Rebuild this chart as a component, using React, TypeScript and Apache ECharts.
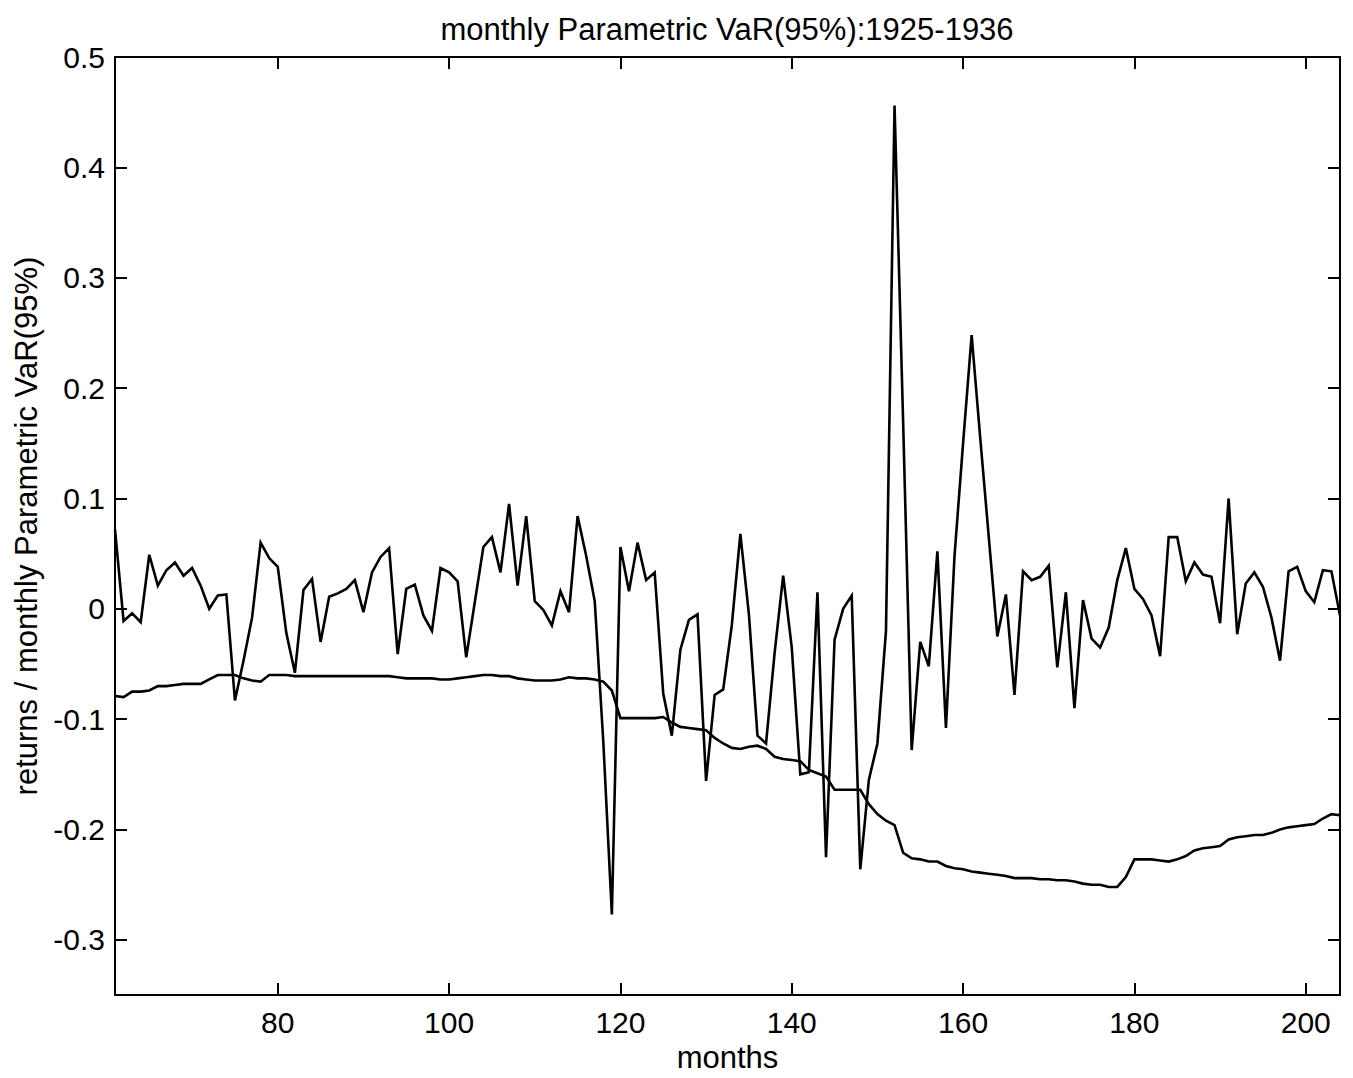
import React, { useEffect, useRef } from "react";
import * as echarts from "echarts";

const START_MONTH = 61;
const END_MONTH = 204;

// monthly returns, months 61..204
const RETURNS = [
  0.072, -0.011, -0.004, -0.012, 0.049, 0.021, 0.035, 0.042, 0.030, 0.037,
  0.021, 0.0, 0.012, 0.013, -0.083, -0.047, -0.008, 0.060, 0.046, 0.038,
  -0.022, -0.058, 0.017, 0.027, -0.030, 0.011, 0.014, 0.018, 0.026, -0.003,
  0.033, 0.047, 0.055, -0.041, 0.018, 0.022, -0.006, -0.020, 0.037, 0.033,
  0.025, -0.044, 0.006, 0.056, 0.065, 0.033, 0.095, 0.021, 0.084, 0.007,
  -0.001, -0.015, 0.016, -0.003, 0.084, 0.048, 0.007, -0.12, -0.277, 0.056,
  0.016, 0.060, 0.026, 0.033, -0.077, -0.115, -0.037, -0.010, -0.005, -0.156,
  -0.078, -0.073, -0.015, 0.068, -0.005, -0.115, -0.122, -0.04, 0.03, -0.035,
  -0.15, -0.148, 0.015, -0.225, -0.028, 0.0, 0.012, -0.236, -0.155, -0.122,
  -0.02, 0.456, 0.17, -0.128, -0.03, -0.052, 0.052, -0.108, 0.048, 0.15,
  0.248, 0.155, 0.065, -0.025, 0.013, -0.078, 0.034, 0.026, 0.029, 0.039,
  -0.053, 0.015, -0.090, 0.008, -0.027, -0.035, -0.017, 0.026, 0.055, 0.018,
  0.009, -0.006, -0.043, 0.065, 0.065, 0.025, 0.042, 0.031, 0.029, -0.013,
  0.100, -0.023, 0.023, 0.033, 0.020, -0.008, -0.047, 0.034, 0.038, 0.016,
  0.006, 0.035, 0.034, -0.006,
];

// monthly parametric VaR(95%), months 61..204
const VAR95 = [
  -0.079, -0.080, -0.075, -0.075, -0.074, -0.070, -0.070, -0.069, -0.068, -0.068,
  -0.068, -0.064, -0.060, -0.060, -0.060, -0.063, -0.065, -0.066, -0.060, -0.060,
  -0.060, -0.061, -0.061, -0.061, -0.061, -0.061, -0.061, -0.061, -0.061, -0.061,
  -0.061, -0.061, -0.061, -0.062, -0.063, -0.063, -0.063, -0.063, -0.064, -0.064,
  -0.063, -0.062, -0.061, -0.060, -0.060, -0.061, -0.061, -0.063, -0.064, -0.065,
  -0.065, -0.065, -0.064, -0.062, -0.063, -0.063, -0.064, -0.066, -0.074, -0.099,
  -0.099, -0.099, -0.099, -0.099, -0.098, -0.103, -0.107, -0.108, -0.109, -0.110,
  -0.117, -0.122, -0.126, -0.127, -0.125, -0.124, -0.127, -0.134, -0.136, -0.137,
  -0.138, -0.146, -0.149, -0.152, -0.164, -0.164, -0.164, -0.164, -0.177, -0.186,
  -0.192, -0.196, -0.221, -0.226, -0.227, -0.229, -0.229, -0.233, -0.235, -0.236,
  -0.238, -0.239, -0.240, -0.241, -0.242, -0.244, -0.244, -0.244, -0.245, -0.245,
  -0.246, -0.246, -0.247, -0.249, -0.250, -0.250, -0.252, -0.252, -0.243, -0.227,
  -0.227, -0.227, -0.228, -0.229, -0.227, -0.224, -0.219, -0.217, -0.216, -0.215,
  -0.209, -0.207, -0.206, -0.205, -0.205, -0.203, -0.200, -0.198, -0.197, -0.196,
  -0.195, -0.190, -0.186, -0.187,
];

const X_TICKS = [80, 100, 120, 140, 160, 180, 200];
const Y_TICKS = [-0.3, -0.2, -0.1, 0, 0.1, 0.2, 0.3, 0.4, 0.5];
const Y_MIN = -0.35;
const Y_MAX = 0.5;

const TITLE = "monthly Parametric VaR(95%):1925-1936";
const X_NAME = "months";
const Y_NAME = "returns / monthly Parametric VaR(95%)";

const FONT = "'Liberation Sans', Arial, Helvetica, sans-serif";

export default function App() {
  const ref = useRef<HTMLDivElement>(null);

  useEffect(() => {
    document.body.style.margin = "0";
    const chart = echarts.init(ref.current as HTMLDivElement, null, { renderer: "svg" });

    const toPairs = (arr: number[]) => arr.map((v, i) => [START_MONTH + i, v]);
    const fmtY = (v: number) => {
      const s = (Math.round(v * 10) / 10).toFixed(1);
      return s === "0.0" || s === "-0.0" ? "0" : s;
    };
    const axisLine = { show: true, onZero: false, lineStyle: { color: "#000", width: 2 } };
    const tick = (vals: number[]) => ({
      show: true,
      inside: true,
      length: 12,
      customValues: vals,
      lineStyle: { color: "#000", width: 2 },
    });
    const lineStyle = { color: "#000", width: 2.6, join: "miter", miterLimit: 4 };

    chart.setOption({
      animation: false,
      backgroundColor: "#ffffff",
      grid: { left: 115, top: 57, width: 1225, height: 943, containLabel: false },
      graphic: [
        {
          type: "text",
          x: 727,
          y: 29,
          style: {
            text: TITLE,
            fontSize: 31,
            fontFamily: FONT,
            fill: "#000",
            align: "center",
            verticalAlign: "middle",
          },
        },
      ],
      xAxis: [
        {
          type: "value",
          position: "bottom",
          min: START_MONTH,
          max: END_MONTH,
          axisLine,
          axisTick: tick(X_TICKS),
          axisLabel: {
            customValues: X_TICKS,
            color: "#000",
            fontSize: 30,
            fontFamily: FONT,
            margin: 12,
          },
          splitLine: { show: false },
          name: X_NAME,
          nameLocation: "middle",
          nameGap: 44,
          nameTextStyle: { color: "#000", fontSize: 31, fontFamily: FONT },
        },
        {
          type: "value",
          position: "top",
          min: START_MONTH,
          max: END_MONTH,
          axisLine,
          axisTick: tick(X_TICKS),
          axisLabel: { show: false },
          splitLine: { show: false },
        },
      ],
      yAxis: [
        {
          type: "value",
          position: "left",
          min: Y_MIN,
          max: Y_MAX,
          axisLine,
          axisTick: tick(Y_TICKS),
          axisLabel: {
            customValues: Y_TICKS,
            formatter: fmtY,
            color: "#000",
            fontSize: 30,
            fontFamily: FONT,
            margin: 10,
          },
          splitLine: { show: false },
          name: Y_NAME,
          nameLocation: "middle",
          nameGap: 72,
          nameTextStyle: { color: "#000", fontSize: 31, fontFamily: FONT },
        },
        {
          type: "value",
          position: "right",
          min: Y_MIN,
          max: Y_MAX,
          axisLine,
          axisTick: tick(Y_TICKS),
          axisLabel: { show: false },
          splitLine: { show: false },
        },
      ],
      series: [
        {
          name: "returns",
          type: "line",
          xAxisIndex: 0,
          yAxisIndex: 0,
          data: toPairs(RETURNS),
          symbol: "none",
          showSymbol: false,
          silent: true,
          lineStyle,
        },
        {
          name: "VaR(95%)",
          type: "line",
          xAxisIndex: 0,
          yAxisIndex: 0,
          data: toPairs(VAR95),
          symbol: "none",
          showSymbol: false,
          silent: true,
          lineStyle,
        },
      ],
    });

    return () => chart.dispose();
  }, []);

  return <div ref={ref} style={{ width: 1353, height: 1078 }} />;
}
